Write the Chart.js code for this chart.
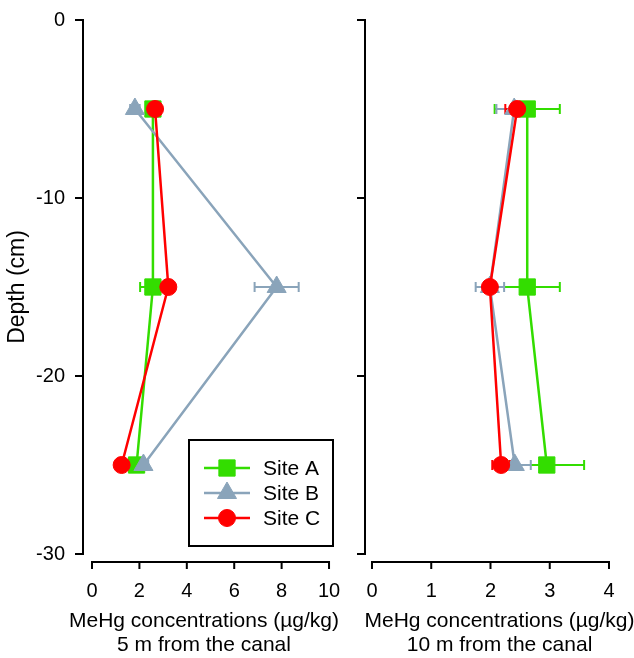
<!DOCTYPE html>
<html lang="en">
<head>
<meta charset="UTF-8">
<title>MeHg depth profiles</title>
<style>
  body { margin: 0; background: #fff; }
  .fig { position: relative; width: 634px; height: 658px; }
  .fig canvas { position: absolute; top: 0; }
  #left5m { left: 0; }
  #right10m { left: 340px; }
</style>
</head>
<body>
<div class="fig">
  <canvas id="left5m" width="350" height="658"></canvas>
  <canvas id="right10m" width="294" height="658"></canvas>
</div>
<script src="https://cdn.jsdelivr.net/npm/chart.js@4.4.1/dist/chart.umd.min.js"></script>
<script>
// shared
const depths = [-5, -15, -25];
const depthTicks = [-30, -20, -10, 0];
const siteNames = ['Site A', 'Site B', 'Site C'];
const siteColors = ['#33dd00', '#8aa4ba', '#ff0000'];
const siteMarkers = ['rect', 'triangle', 'circle'];
const siteRadius = [11.5, 11, 8.5];

// 5 m from the canal
const ticks5m = [0, 2, 4, 6, 8, 10];
const siteA5m = [2.57, 2.57, 1.88];
const siteA5mErr = [0.2, 0.54, 0.2];
const siteB5m = [1.81, 7.79, 2.17];
const siteB5mErr = [0.2, 0.93, 0.2];
const siteC5m = [2.66, 3.22, 1.25];
const siteC5mErr = [0.15, 0.15, 0.15];

// 10 m from the canal
const ticks10m = [0, 1, 2, 3, 4];
const siteA10m = [2.62, 2.62, 2.95];
const siteA10mErr = [0.55, 0.55, 0.63];
const siteB10m = [2.4, 1.99, 2.41];
const siteB10mErr = [0.3, 0.24, 0.27];
const siteC10m = [2.45, 1.99, 2.18];
const siteC10mErr = [0.2, 0.1, 0.15];

const fontFamily = '"Liberation Sans", Arial, sans-serif';
const tickFont = { family: fontFamily, size: 20 };
const titleFont = { family: fontFamily, size: 23, lineHeight: 1.05 };

// horizontal error bars, drawn under the markers
const errorBars = {
    id: 'errorBars',
    beforeDatasetsDraw(chart) {
        const ctx = chart.ctx, xs = chart.scales.x, ys = chart.scales.y;
        chart.data.datasets.forEach(ds => {
            ctx.save();
            ctx.strokeStyle = ds.borderColor;
            ctx.lineWidth = 2;
            ds.data.forEach((p, i) => {
                const e = ds.errors[i];
                const x1 = xs.getPixelForValue(p.x - e);
                const x2 = xs.getPixelForValue(p.x + e);
                const y = ys.getPixelForValue(p.y);
                ctx.beginPath();
                ctx.moveTo(x1, y); ctx.lineTo(x2, y);
                ctx.moveTo(x1, y - 5); ctx.lineTo(x1, y + 5);
                ctx.moveTo(x2, y - 5); ctx.lineTo(x2, y + 5);
                ctx.stroke();
            });
            ctx.restore();
        });
    }
};

// x axis sits a little below the plot, sigmaplot style, with its title under it
const offsetXAxis = {
    id: 'offsetXAxis',
    afterDraw(chart, args, opts) {
        const ctx = chart.ctx, xs = chart.scales.x, area = chart.chartArea;
        const y = area.bottom + 8;
        const vals = xs.ticks.map(t => t.value);
        const x0 = xs.getPixelForValue(vals[0]);
        const x1 = xs.getPixelForValue(vals[vals.length - 1]);
        ctx.save();
        ctx.strokeStyle = '#000';
        ctx.lineWidth = 2;
        ctx.beginPath();
        ctx.moveTo(x0 - 1, y); ctx.lineTo(x1 + 1, y);
        vals.forEach(v => {
            const x = xs.getPixelForValue(v);
            ctx.moveTo(x, y); ctx.lineTo(x, y + 7);
        });
        ctx.stroke();

        // two-line title under the axis
        const cx = (area.left + area.right) / 2;
        ctx.fillStyle = '#000';
        ctx.textAlign = 'center';
        ctx.textBaseline = 'middle';
        ctx.font = '21px ' + fontFamily;
        ctx.fillText(opts.title[0], cx, 621);
        ctx.fillText(opts.title[1], cx, 645);
        ctx.restore();
    }
};

// boxed legend inside the left panel
const boxLegend = {
    id: 'boxLegend',
    afterDraw(chart) {
        const ctx = chart.ctx;
        ctx.save();
        ctx.strokeStyle = '#000';
        ctx.lineWidth = 2;
        ctx.strokeRect(189, 440, 144, 106);
        chart.data.datasets.forEach((ds, k) => {
            const y = 468 + k * 25;
            ctx.strokeStyle = ds.borderColor;
            ctx.fillStyle = ds.backgroundColor;
            ctx.lineWidth = ds.borderWidth;
            ctx.beginPath();
            ctx.moveTo(204, y); ctx.lineTo(250, y);
            ctx.stroke();
            ctx.lineWidth = 1;
            Chart.helpers.drawPoint(ctx, { pointStyle: ds.pointStyle, radius: ds.pointRadius, borderWidth: 1, rotation: 0 }, 227, y);
            ctx.fillStyle = '#000';
            ctx.font = '21px ' + fontFamily;
            ctx.textBaseline = 'middle';
            ctx.fillText(ds.label, 263, y + 1);
        });
        ctx.restore();
    }
};

function siteDatasets(values, errors) {
    return values.map((vals, k) => ({
        label: siteNames[k],
        data: vals.map((v, i) => ({ x: v, y: depths[i] })),
        errors: errors[k],
        showLine: true,
        borderColor: siteColors[k],
        backgroundColor: siteColors[k],
        borderWidth: 2.5,
        pointStyle: siteMarkers[k],
        pointRadius: siteRadius[k],
        pointHoverRadius: siteRadius[k],
        pointBorderWidth: 1,
        order: 3 - k,
        clip: false
    }));
}

function makePanel(id, cfg) {
    return new Chart(document.getElementById(id), {
        type: 'scatter',
        data: { datasets: siteDatasets(cfg.values, cfg.errors) },
        options: {
            responsive: false,
            animation: false,
            devicePixelRatio: 1,
            layout: { autoPadding: false, padding: { top: 20, right: cfg.padRight, left: 0, bottom: 0 } },
            plugins: {
                legend: { display: false },
                tooltip: { enabled: false },
                offsetXAxis: { title: cfg.xTitle }
            },
            scales: {
                x: {
                    type: 'linear',
                    min: cfg.xMin,
                    max: cfg.xMax,
                    afterBuildTicks: s => { s.ticks = cfg.xTicks.map(v => ({ value: v })); },
                    afterFit: s => { s.height = 104; s.paddingLeft = 0; s.paddingRight = 0; },
                    border: { display: false },
                    grid: { display: false },
                    ticks: { color: '#000', font: tickFont, padding: 17, autoSkip: false, maxRotation: 0, callback: v => String(v) }
                },
                y: {
                    type: 'linear',
                    min: -30,
                    max: 0,
                    afterBuildTicks: s => { s.ticks = depthTicks.map(v => ({ value: v })); },
                    afterFit: s => { s.width = cfg.yWidth; s.paddingTop = 0; s.paddingBottom = 0; },
                    border: { display: true, color: '#000', width: 2 },
                    grid: { drawOnChartArea: false, color: '#000', lineWidth: 2, tickLength: 8 },
                    ticks: { display: cfg.yLabels, color: '#000', font: tickFont, padding: 10, callback: v => String(v) },
                    title: { display: cfg.yLabels, text: 'Depth (cm)', color: '#000', font: titleFont, padding: { top: 6 } }
                }
            }
        },
        plugins: cfg.plugins
    });
}

makePanel('left5m', {
    values: [siteA5m, siteB5m, siteC5m],
    errors: [siteA5mErr, siteB5mErr, siteC5mErr],
    xTicks: ticks5m,
    xMin: -0.38,
    xMax: 9.83,
    padRight: 25,
    yWidth: 83,
    yLabels: true,
    xTitle: ['MeHg concentrations (µg/kg)', '5 m from the canal'],
    plugins: [errorBars, offsetXAxis, boxLegend]
});

makePanel('right10m', {
    values: [siteA10m, siteB10m, siteC10m],
    errors: [siteA10mErr, siteB10mErr, siteC10mErr],
    xTicks: ticks10m,
    xMin: -0.118,
    xMax: 4.422,
    padRight: 0,
    yWidth: 25,
    yLabels: false,
    xTitle: ['MeHg concentrations (µg/kg)', '10 m from the canal'],
    plugins: [errorBars, offsetXAxis]
});
</script>
</body>
</html>
